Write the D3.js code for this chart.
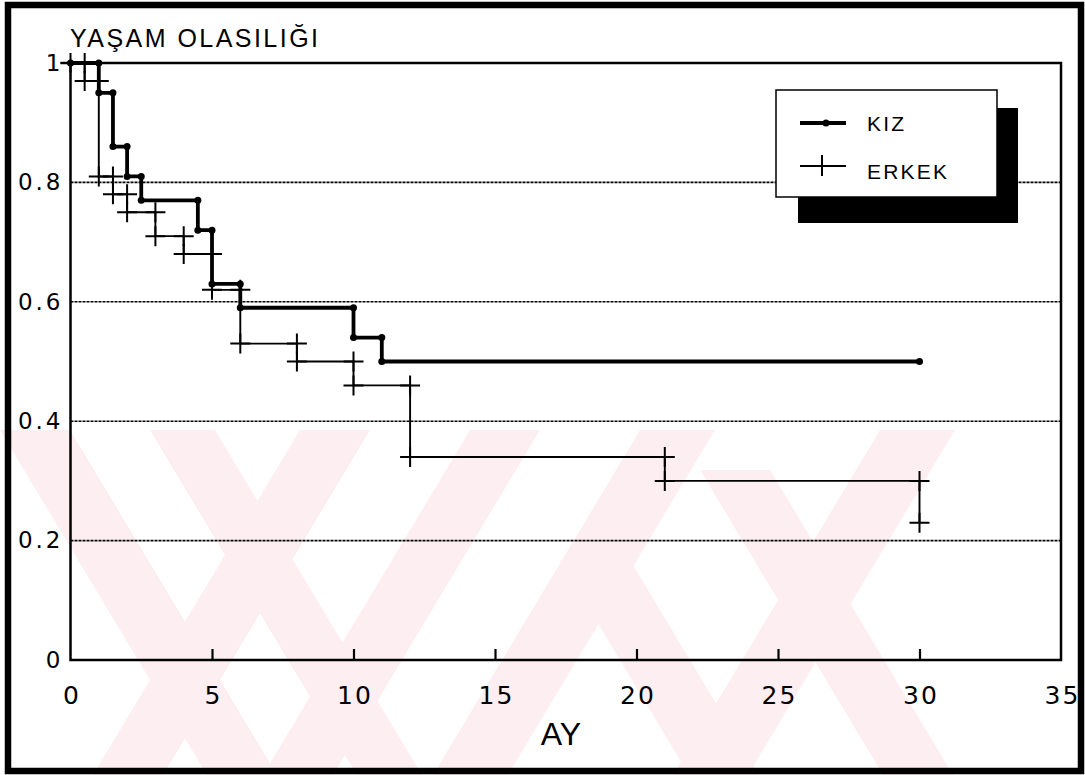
<!DOCTYPE html>
<html>
<head>
<meta charset="utf-8">
<script src="https://cdn.jsdelivr.net/npm/d3@7"></script>
<style>
  html, body { margin: 0; padding: 0; background: #fff; }
  svg { display: block; }
  text { font-family: "Liberation Sans", Arial, sans-serif; fill: #000; }
</style>
</head>
<body>
<svg id="chart" width="1085" height="775"></svg>
<script>
// survival data (months, probability after the step)
const kizMonths = [0, 1, 1.5, 2, 2.5, 4.5, 5, 6, 10, 11, 30];
const kizSurvival = [1, 0.95, 0.86, 0.81, 0.77, 0.72, 0.63, 0.59, 0.54, 0.50, 0.50];

const erkekMonths = [0, 0.5, 1, 1.5, 2, 3, 4, 5, 6, 8, 10, 12, 21, 30];
const erkekSurvival = [1, 0.97, 0.81, 0.78, 0.75, 0.71, 0.68, 0.62, 0.53, 0.50, 0.46, 0.34, 0.30, 0.23];

const seriesNames = ["KIZ", "ERKEK"];
const xTickValues = [0, 5, 10, 15, 20, 25, 30, 35];
const yTickValues = [0, 0.2, 0.4, 0.6, 0.8, 1];
const yTickLabels = ["0", "0.2", "0.4", "0.6", "0.8", "1"];
const gridValues = [0.2, 0.4, 0.6, 0.8];

const svg = d3.select("#chart");
const width = 1085, height = 775;

const x = d3.scaleLinear().domain([0, 35]).range([70.5, 1061]);
const y = d3.scaleLinear().domain([0, 1]).range([660, 63]);

// faint watermark stripes in the lower half
const wm = svg.append("g").attr("fill", "#fdeef1");
const bands = [
  // [x at top, width, slope dx/dy, top y]
  [0, 70, 0.6, 430], [150, 65, 0.6, 430], [560, 70, 0.6, 560],
  [700, 70, 0.6, 470], [470, 70, -0.6, 430], [640, 75, -0.6, 430],
  [880, 75, -0.6, 430], [300, 70, -0.6, 430]
];
bands.forEach(function (b) {
  const y0 = b[3], y1 = 775, dx = (y1 - y0) * b[2];
  wm.append("polygon").attr("points", [
    [b[0], y0], [b[0] + b[1], y0], [b[0] + b[1] + dx, y1], [b[0] + dx, y1]
  ].map(p => p.join(",")).join(" "));
});

// outer frame
svg.append("rect")
  .attr("x", 8).attr("y", 5).attr("width", 1073).attr("height", 766)
  .attr("fill", "none").attr("stroke", "#000").attr("stroke-width", 6.5);

// dotted gridlines
svg.append("g").selectAll("line").data(gridValues).enter().append("line")
  .attr("x1", x(0)).attr("x2", x(35))
  .attr("y1", d => y(d)).attr("y2", d => y(d))
  .attr("stroke", "#000").attr("stroke-width", 1.6)
  .attr("stroke-dasharray", "3,1");

// plot frame
svg.append("rect")
  .attr("x", x(0)).attr("y", y(1))
  .attr("width", x(35) - x(0)).attr("height", y(0) - y(1))
  .attr("fill", "none").attr("stroke", "#000").attr("stroke-width", 2.5);
svg.append("line")
  .attr("x1", x(0) - 10).attr("x2", x(0))
  .attr("y1", y(1)).attr("y2", y(1))
  .attr("stroke", "#000").attr("stroke-width", 2.5);

// inward ticks on x axis
const xTickAxis = svg.append("g")
  .attr("transform", "translate(0," + y(0) + ")")
  .call(d3.axisBottom(x).tickValues([5, 10, 15, 20, 25, 30]).tickSize(-11).tickFormat(""));
xTickAxis.select(".domain").remove();
xTickAxis.selectAll("line").attr("stroke-width", 2.2);

// x labels
const xLab = svg.append("g")
  .attr("transform", "translate(0," + y(0) + ")")
  .call(d3.axisBottom(x).tickValues(xTickValues).tickSize(0).tickPadding(26).tickFormat(d3.format("d")));
xLab.select(".domain").remove();
xLab.selectAll("text")
  .style("font-family", "'DejaVu Sans', sans-serif")
  .attr("font-size", 25).attr("letter-spacing", 2).attr("dx", 1);

// y labels
const yLab = svg.append("g")
  .attr("transform", "translate(" + x(0) + ",0)")
  .call(d3.axisLeft(y).tickValues(yTickValues).tickSize(0).tickPadding(10)
    .tickFormat((d, i) => yTickLabels[i]));
yLab.select(".domain").remove();
yLab.selectAll("text")
  .style("font-family", "'DejaVu Sans', sans-serif")
  .attr("font-size", 23).attr("letter-spacing", 3).attr("dx", 3);

// titles
svg.append("text")
  .attr("x", 70).attr("y", 47)
  .attr("font-size", 25)
  .attr("textLength", 248).attr("lengthAdjust", "spacing")
  .text("YAŞAM OLASILIĞI");
svg.append("text")
  .attr("x", 561).attr("y", 745)
  .attr("text-anchor", "middle").attr("font-size", 32)
  .text("AY");

// step curve vertices
function stepPoints(ts, ss) {
  const pts = [[ts[0], ss[0]]];
  for (let i = 1; i < ts.length; i++) {
    if (ss[i] !== ss[i - 1]) pts.push([ts[i], ss[i - 1]]);
    pts.push([ts[i], ss[i]]);
  }
  return pts;
}
const line = d3.line().x(d => x(d[0])).y(d => y(d[1]));

// ERKEK: thin line with + markers
const erkekPts = stepPoints(erkekMonths, erkekSurvival);
svg.append("path").datum(erkekPts)
  .attr("d", line).attr("fill", "none")
  .attr("stroke", "#000").attr("stroke-width", 1.9);
const plusPath = "M-10,0H10M0,-10V10";
svg.append("g").selectAll("path").data(erkekPts).enter().append("path")
  .attr("transform", d => "translate(" + x(d[0]) + "," + y(d[1]) + ")")
  .attr("d", plusPath)
  .attr("stroke", "#000").attr("stroke-width", 2);

// KIZ: thick line with dot markers
const kizPts = stepPoints(kizMonths, kizSurvival);
svg.append("path").datum(kizPts)
  .attr("d", line).attr("fill", "none")
  .attr("stroke", "#000").attr("stroke-width", 3.8)
  .attr("stroke-linejoin", "round");
svg.append("g").selectAll("circle").data(kizPts).enter().append("circle")
  .attr("cx", d => x(d[0])).attr("cy", d => y(d[1]))
  .attr("r", 3.5).attr("fill", "#000");

// legend with drop shadow
const lg = svg.append("g");
lg.append("rect").attr("x", 798).attr("y", 108).attr("width", 220).attr("height", 115)
  .attr("fill", "#000");
lg.append("rect").attr("x", 776).attr("y", 90).attr("width", 221).attr("height", 107)
  .attr("fill", "#fff").attr("stroke", "#000").attr("stroke-width", 1.5);

lg.append("line").attr("x1", 800).attr("x2", 846).attr("y1", 123).attr("y2", 123)
  .attr("stroke", "#000").attr("stroke-width", 3.8);
lg.append("circle").attr("cx", 826).attr("cy", 123).attr("r", 3.5).attr("fill", "#000");
lg.append("line").attr("x1", 800).attr("x2", 846).attr("y1", 166).attr("y2", 166)
  .attr("stroke", "#000").attr("stroke-width", 1.9);
lg.append("line").attr("x1", 822).attr("x2", 822).attr("y1", 155).attr("y2", 176)
  .attr("stroke", "#000").attr("stroke-width", 2);

lg.selectAll("text.leg").data(seriesNames).enter().append("text")
  .attr("class", "leg")
  .attr("x", 867).attr("y", (d, i) => i === 0 ? 131 : 179)
  .attr("font-size", 21).attr("letter-spacing", 2.2)
  .text(d => d);
</script>
</body>
</html>
